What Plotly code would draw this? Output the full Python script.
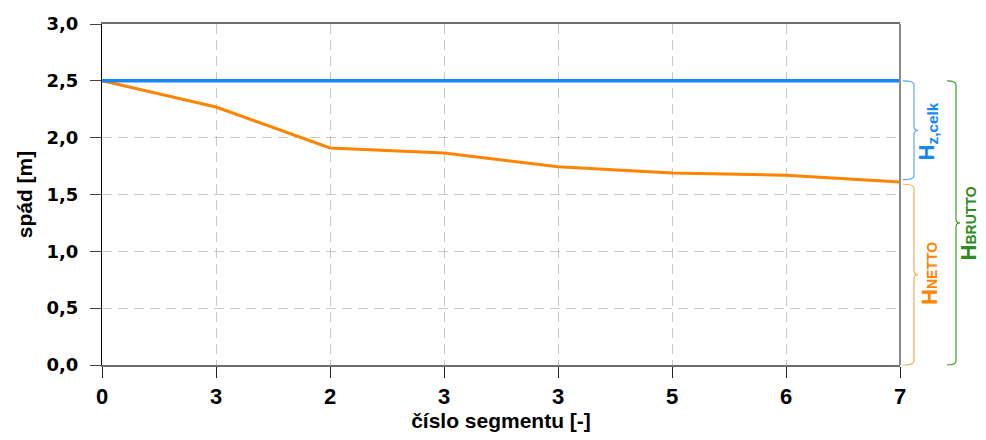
import plotly.graph_objects as go

# ---- data ----
segments = [0, 1, 2, 3, 4, 5, 6, 7]
segment_labels = ["0", "3", "2", "3", "3", "5", "6", "7"]
h_brutto = [2.5, 2.5, 2.5, 2.5, 2.5, 2.5, 2.5, 2.5]
h_netto = [2.5, 2.27, 1.91, 1.865, 1.745, 1.69, 1.67, 1.61]
y_ticks = [0.0, 0.5, 1.0, 1.5, 2.0, 2.5, 3.0]
y_tick_labels = ["0,0", "0,5", "1,0", "1,5", "2,0", "2,5", "3,0"]

Y_MAX = 3.0
PAGE_OFF = 8  # default body margin of the html page
W, H = 986, 440
PLOT_L, PLOT_T, PW, PH = 102, 24, 798, 341  # plot area in page pixels
ML = PLOT_L - PAGE_OFF
MT = PLOT_T - PAGE_OFF
MR = W - ML - PW
MB = H - MT - PH

BLUE = "#1787f5"
ORANGE = "#ff8400"
GREEN = "#2f8c1e"


def px_x(p):
    return (p - PLOT_L) / PW


def brace(x_left, x_vert, x_tip, v_top, v_bot, color):
    yt = v_top / Y_MAX
    yb = v_bot / Y_MAX
    ym = (yt + yb) / 2
    c = 4 / PH
    x0, xv, xt = px_x(x_left), px_x(x_vert), px_x(x_tip)
    path = (f"M {x0},{yt} Q {xv},{yt} {xv},{yt - c} L {xv},{ym + c} "
            f"Q {xv},{ym} {xt},{ym} Q {xv},{ym} {xv},{ym - c} "
            f"L {xv},{yb + c} Q {xv},{yb} {x0},{yb}")
    return dict(type="path", xref="paper", yref="paper", path=path,
                line=dict(color=color, width=1.2))


fig = go.Figure()
fig.add_trace(go.Scatter(x=segments, y=h_netto, mode="lines",
                         line=dict(color=ORANGE, width=3), showlegend=False))
fig.add_trace(go.Scatter(x=segments, y=h_brutto, mode="lines",
                         line=dict(color=BLUE, width=3.5), showlegend=False))

netto_end = h_netto[-1]
brutto_end = h_brutto[-1]

shapes = [
    # right frame line
    dict(type="line", xref="paper", yref="paper", x0=1, x1=1, y0=0, y1=1,
         line=dict(color="#8a8a8a", width=2)),
    brace(903, 914, 918, brutto_end, netto_end + 0.02, "#5aaaf5"),
    brace(903, 914, 918, netto_end - 0.02, 0, "#ffaa5a"),
    brace(947, 956, 960, brutto_end, 0, "#3c9a28"),
]

annotations = [
    dict(xref="paper", yref="y", x=px_x(944), y=(brutto_end + netto_end) / 2,
         text="H<sub>z,celk</sub>", textangle=-90, showarrow=False,
         font=dict(family="Liberation Sans", size=22, color=BLUE, weight="bold")),
    dict(xref="paper", yref="y", x=px_x(944), y=netto_end / 2,
         text="H<span style='font-size:14px'>NETTO</span>", textangle=-90,
         showarrow=False,
         font=dict(family="Liberation Sans", size=22, color=ORANGE, weight="bold")),
    dict(xref="paper", yref="y", x=px_x(983), y=brutto_end / 2,
         text="H<span style='font-size:14px'>BRUTTO</span>", textangle=-90,
         showarrow=False,
         font=dict(family="Liberation Sans", size=22, color=GREEN, weight="bold")),
]

fig.update_layout(
    width=W, height=H,
    margin=dict(l=ML, r=MR, t=MT, b=MB, autoexpand=False),
    paper_bgcolor="white", plot_bgcolor="white",
    shapes=shapes, annotations=annotations,
    xaxis=dict(
        range=[0, 7], tickvals=segments, ticktext=segment_labels,
        showgrid=True, gridcolor="#c8c8c8", griddash="10px,6px", gridwidth=1,
        showline=True, linecolor="#6e6e6e", linewidth=1.5, mirror=True,
        ticks="outside", ticklen=11, tickcolor="#222", zeroline=False,
        tickfont=dict(family="Liberation Sans", size=22, color="black", weight="bold"),
        title=dict(text="číslo segmentu [-]", standoff=2,
                   font=dict(family="Liberation Sans", size=21, color="black", weight="bold")),
    ),
    yaxis=dict(
        range=[0, Y_MAX], tickvals=y_ticks, ticktext=y_tick_labels,
        showgrid=True, gridcolor="#c8c8c8", griddash="10px,6px", gridwidth=1,
        showline=True, linecolor="black", linewidth=1.2,
        ticks="outside", ticklen=11, tickcolor="#444", zeroline=False,
        ticklabelstandoff=8,
        tickfont=dict(family="DejaVu Sans", size=18, color="black", weight="bold"),
        title=dict(text="spád [m]", standoff=8,
                   font=dict(family="Liberation Sans", size=21, color="black", weight="bold")),
    ),
)

fig.write_html("out.html")
